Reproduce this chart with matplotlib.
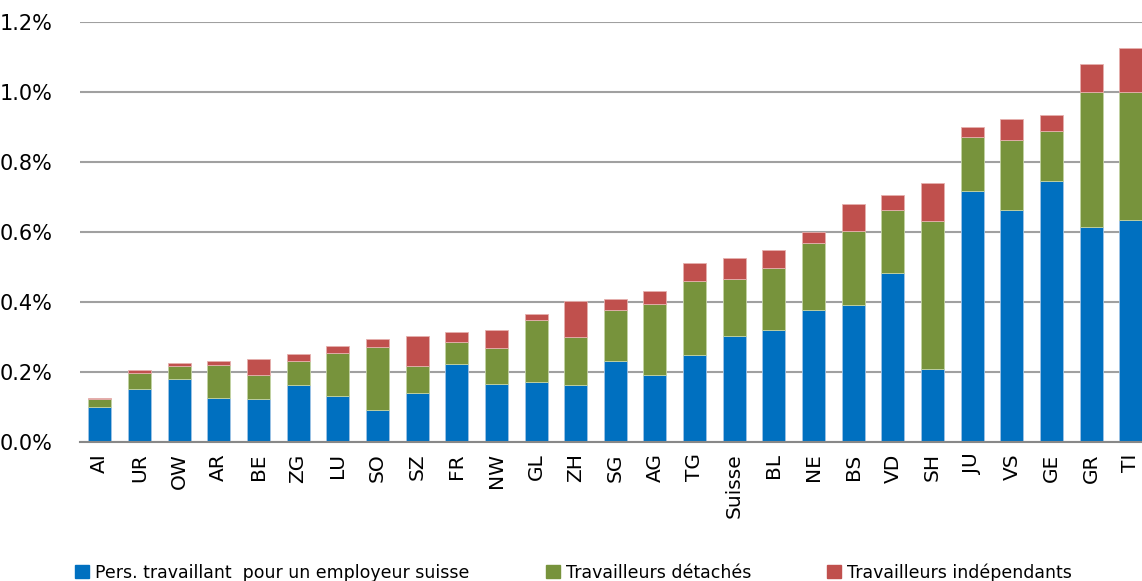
import numpy as np
import matplotlib.pyplot as plt
from matplotlib.patches import Patch
from matplotlib.ticker import FuncFormatter

# cantons, sorted by total share (values in %)
cantons = ['AI', 'UR', 'OW', 'AR', 'BE', 'ZG', 'LU', 'SO', 'SZ', 'FR', 'NW',
           'GL', 'ZH', 'SG', 'AG', 'TG', 'Suisse', 'BL', 'NE', 'BS', 'VD',
           'SH', 'JU', 'VS', 'GE', 'GR', 'TI']
employeur_suisse = [0.101, 0.151, 0.179, 0.126, 0.122, 0.163, 0.132, 0.092,
                    0.139, 0.224, 0.167, 0.171, 0.162, 0.233, 0.192, 0.249,
                    0.304, 0.321, 0.377, 0.391, 0.482, 0.208, 0.717, 0.663,
                    0.747, 0.614, 0.635]
detaches = [0.021, 0.046, 0.038, 0.095, 0.070, 0.068, 0.122, 0.179, 0.078,
            0.063, 0.103, 0.179, 0.137, 0.145, 0.203, 0.212, 0.161, 0.177,
            0.192, 0.211, 0.182, 0.423, 0.154, 0.201, 0.142, 0.385, 0.364]
independants = [0.004, 0.008, 0.009, 0.012, 0.045, 0.020, 0.021, 0.024, 0.086,
                0.029, 0.050, 0.016, 0.104, 0.030, 0.038, 0.050, 0.061, 0.051,
                0.030, 0.079, 0.043, 0.108, 0.030, 0.058, 0.045, 0.081, 0.126]
labels = ['Pers. travaillant  pour un employeur suisse',
          'Travailleurs détachés', 'Travailleurs indépendants']
colors = ['#0070C0', '#77933C', '#C0504D']

x = np.arange(len(cantons))
a = np.array(employeur_suisse)
b = np.array(detaches)
c = np.array(independants)

fig = plt.figure(figsize=(11.42, 5.81), dpi=100)
ax = fig.add_axes([0.070, 0.239, 0.930, 0.723])

w = 0.58
ax.bar(x, a, w, color=colors[0], edgecolor='#9fc3e6', linewidth=0.6, zorder=3)
ax.bar(x, b, w, bottom=a, color=colors[1], edgecolor='#c3d3a3', linewidth=0.6, zorder=3)
ax.bar(x, c, w, bottom=a + b, color=colors[2], edgecolor='#e6b0ae', linewidth=0.6, zorder=3)

ax.set_xlim(-0.5, len(cantons) - 1 + 0.28)
ax.set_ylim(0, 1.2)
ax.set_yticks(np.arange(0, 1.21, 0.2))
ax.yaxis.set_major_formatter(FuncFormatter(lambda v, p: '%.1f%%' % v))
ax.yaxis.grid(True, color='#a0a0a0', linewidth=1.5, zorder=0)
ax.set_xticks(x)
ax.set_xticklabels(cantons, rotation=90, fontsize=14.5)
ax.tick_params(axis='both', length=0)
ax.tick_params(axis='y', labelsize=15, pad=20)
ax.tick_params(axis='x', pad=8)
for s in ['top', 'right', 'left']:
    ax.spines[s].set_visible(False)
ax.spines['bottom'].set_color('#888888')
ax.spines['bottom'].set_linewidth(1.5)
ax.spines['bottom'].set_zorder(4)

handles = [Patch(color=col) for col in colors]
fig.legend(handles, labels, loc='lower left', bbox_to_anchor=(0.052, -0.028),
           ncol=3, frameon=False, fontsize=12.5, handlelength=0.8,
           handleheight=0.8, handletextpad=0.35, columnspacing=4.4)

plt.savefig('out.png')
